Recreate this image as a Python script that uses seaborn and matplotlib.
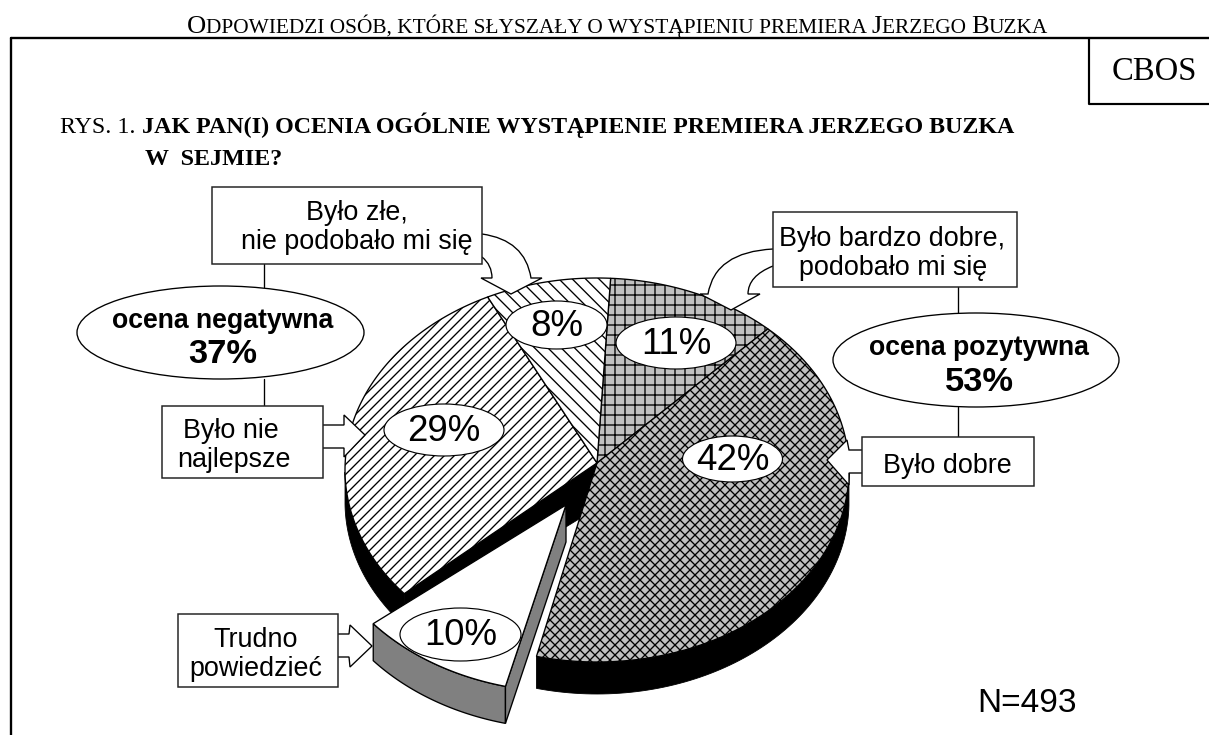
import numpy as np
import matplotlib
matplotlib.use("Agg")
import matplotlib.pyplot as plt
from matplotlib.patches import Ellipse, PathPatch, Polygon, Rectangle
from matplotlib.path import Path
import seaborn as sns

sns.set_theme(style="white")
plt.rcParams["hatch.linewidth"] = 0.8
plt.rcParams["font.family"] = ["Liberation Sans", "DejaVu Sans"]

categories = ["Było bardzo dobre", "Było dobre", "Trudno powiedzieć", "Było nie najlepsze", "Było złe"]
shares = [11, 42, 10, 29, 8]
share_labels = ["11%", "42%", "10%", "29%", "8%"]
fills = ["#c0c0c0", "#c0c0c0", "white", "white", "white"]
hatches = ["++", "xxxx", None, "////", "\\\\\\"]
exploded = "Trudno powiedzieć"
n_label = "N=493"

DPI = 120
fig = plt.figure(figsize=(1209 / DPI, 735 / DPI), dpi=DPI, facecolor="white")
ax = fig.add_axes([0, 0, 1, 1])
ax.set_xlim(0, 1209)
ax.set_ylim(735, 0)
ax.axis("off")

CX, CY, RX, RY = 597, 470, 252, 192
APEX = (597, 463)
DEPTH = 32
START = 3.1


def rim(deg):
    a = np.radians(np.asarray(deg, dtype=float))
    return CX + RX * np.sin(a), CY - RY * np.cos(a)


edges = START + np.concatenate([[0], np.cumsum(shares)]) * 3.6
for i, cat in enumerate(categories):
    t0, t1 = edges[i], edges[i + 1]
    th = np.linspace(t0, t1, 120)
    x, y = rim(th)
    if cat == exploded:
        dx, dy = -31, 30
        ax_, ay_ = APEX[0] - 31, APEX[1] + 42
        d = 37
        ax.fill(np.r_[x + dx, x[::-1] + dx], np.r_[y + dy, y[::-1] + dy + d],
                fc="#808080", ec="black", lw=0.8, zorder=5)
        ax.fill([ax_, ax_, x[0] + dx, x[0] + dx], [ay_, ay_ + d, y[0] + dy + d, y[0] + dy],
                fc="#808080", ec="black", lw=0.8, zorder=5)
        ax.fill(np.r_[ax_, x + dx], np.r_[ay_, y + dy], fc="white", ec="black", lw=0.8, zorder=6)
        # black cut wall of the neighbouring slice is revealed by the gap
        xe, ye = rim(t1)
        ax.fill([APEX[0], APEX[0], xe, xe], [APEX[1], APEX[1] + 45, ye + DEPTH, ye],
                fc="black", ec="black", lw=0.5, zorder=2)
    else:
        front = (th % 360 > 90) & (th % 360 < 270)
        if front.any():
            fx, fy = x[front], y[front]
            ax.fill(np.r_[fx, fx[::-1]], np.r_[fy, fy[::-1] + DEPTH], fc="black", ec="black", lw=0.5, zorder=2)
        ax.fill(np.r_[APEX[0], x], np.r_[APEX[1], y], fc=fills[i], ec="black", lw=0.8,
                hatch=hatches[i], zorder=3)

label_boxes = {"8%": (556.5, 325, 101, 48), "11%": (676, 343, 120, 52), "29%": (444, 430, 120, 52),
               "42%": (732.5, 459, 100, 46), "10%": (460.5, 634.5, 121, 53)}
for s in share_labels:
    ex, ey, w, h = label_boxes[s]
    ax.add_patch(Ellipse((ex, ey), w, h, fc="white", ec="black", lw=0.7, zorder=7))
    ax.text(ex, ey + 1, s, ha="center", va="center", fontsize=22, color="black", zorder=8)


def curve(verts, codes, z=9):
    ax.add_patch(PathPatch(Path(verts, codes), fc="white", ec="black", lw=0.8, zorder=z))


M, L, Q = Path.MOVETO, Path.LINETO, Path.CURVE3
# block arrows
for pts in [
    [(323, 425), (344, 425), (344, 415), (365, 435), (344, 457), (344, 448), (323, 448)],
    [(862, 450), (849, 450), (847, 440), (827, 460), (849, 485), (849, 473), (862, 473)],
    [(338, 634), (349, 634), (350, 625), (372, 646), (350, 667), (349, 657), (338, 657)],
]:
    ax.add_patch(Polygon(pts, closed=False, fc="white", ec="black", lw=0.8, zorder=9))
# curved arrows
curve([(482, 234), (525, 240), (531, 278), (542, 278), (511, 294), (481, 278), (492, 278), (492, 265), (482, 257)],
      [M, Q, Q, L, L, L, L, Q, Q])
curve([(773, 249), (715, 252), (708, 294), (700, 294), (731, 310), (760, 294), (748, 294), (748, 276), (773, 266)],
      [M, Q, Q, L, L, L, L, Q, Q])

# connector lines
for lx, y0, y1 in [(264, 264, 287), (264, 379, 406), (958, 287, 313), (958, 407, 437)]:
    ax.plot([lx, lx], [y0, y1], color="black", lw=0.8, zorder=1)

# boxes
for x0, y0, x1, y1 in [(212, 187, 482, 264), (773, 212, 1017, 287), (162, 406, 323, 478),
                       (862, 437, 1034, 486), (178, 614, 338, 687)]:
    ax.add_patch(Rectangle((x0, y0), x1 - x0, y1 - y0, fc="white", ec="#222222", lw=0.9, zorder=10))

FS = 16.1
for s, xt, yt in [("Było złe,", 357, 220), ("nie podobało mi się", 357, 249),
                  ("Było bardzo dobre,", 892, 246), ("podobało mi się", 893, 275),
                  ("Było nie", 231, 438), ("najlepsze", 234, 467),
                  ("Było dobre", 947, 473), ("Trudno", 255.5, 647), ("powiedzieć", 255.5, 676)]:
    ax.text(xt, yt, s, ha="center", va="baseline", fontsize=FS, color="black", zorder=11)

# summary ovals
for ex, ey, w, h, t1_, t2_, tx, b1, b2 in [(220.5, 332.5, 287, 93, "ocena negatywna", "37%", 223, 328, 363),
                                           (976, 360, 286, 94, "ocena pozytywna", "53%", 979, 355, 391)]:
    ax.add_patch(Ellipse((ex, ey), w, h, fc="white", ec="black", lw=0.8, zorder=4))
    ax.text(tx, b1, t1_, ha="center", va="baseline", fontsize=16, fontweight="bold", color="black", zorder=8)
    ax.text(tx, b2, t2_, ha="center", va="baseline", fontsize=20.7, fontweight="bold", color="black", zorder=8)

ax.text(1026.5, 712, n_label, ha="center", va="baseline", fontsize=20, color="black")

# frame
ax.plot([11, 11], [735, 38], color="black", lw=1.4, zorder=12)
ax.plot([11, 1209], [38, 38], color="black", lw=1.4, zorder=12)
ax.plot([1089, 1089, 1209], [38, 104, 104], color="black", lw=1.3, zorder=12)
SERIF = ["Liberation Serif", "DejaVu Serif"]
ax.text(1154.5, 80, "CBOS", ha="center", va="baseline", fontsize=19.6, family=SERIF, color="black")

renderer = fig.canvas.get_renderer()


def run(xp, yp, parts):
    to_data = ax.transData.inverted()
    for s, fs, weight in parts:
        t = ax.text(xp, yp, s, ha="left", va="baseline", fontsize=fs, fontweight=weight, family=SERIF, color="black")
        w = t.get_window_extent(renderer).width
        xp += w * (to_data.transform((1, 0))[0] - to_data.transform((0, 0))[0])
    return xp


B, S = 15.9, 12.8
words = [("O", B), ("DPOWIEDZI OSÓB, KTÓRE SŁYSZAŁY O WYSTĄPIENIU PREMIERA ", S), ("J", B), ("ERZEGO ", S), ("B", B), ("UZKA", S)]
run(187, 32.5, [(s, f, "normal") for s, f in words])
run(60, 132.5, [("RYS. 1. ", 14.4, "normal"), ("JAK PAN(I) OCENIA OGÓLNIE WYSTĄPIENIE PREMIERA JERZEGO BUZKA", 14.4, "bold")])
run(145, 164.5, [("W  SEJMIE?", 14.4, "bold")])

fig.savefig("out.png", dpi=DPI, facecolor="white")
